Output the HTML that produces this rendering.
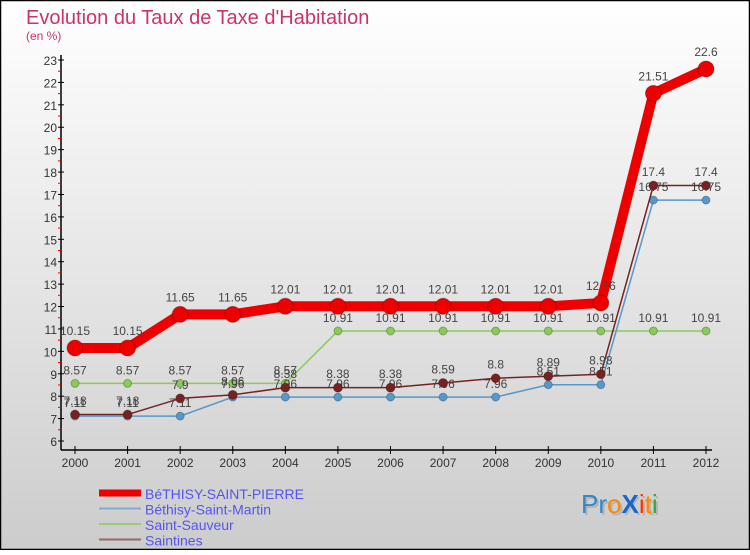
<!DOCTYPE html>
<html><head><meta charset="utf-8"><style>
html,body{margin:0;padding:0;}
body{width:750px;height:550px;overflow:hidden;font-family:"Liberation Sans",sans-serif;}
</style></head><body>
<svg id="chart" width="750" height="550" xmlns="http://www.w3.org/2000/svg">
<defs><linearGradient id="bg" x1="0" y1="0" x2="0" y2="1"><stop offset="0" stop-color="#ffffff"/><stop offset="1" stop-color="#cccccc"/></linearGradient></defs>
<rect x="0.5" y="0.5" width="749" height="549" fill="url(#bg)" stroke="#000" stroke-width="1.5"/>
<text x="26" y="24" font-size="20" fill="#cc3366">Evolution du Taux de Taxe d'Habitation</text>
<text x="26" y="40" font-size="12" fill="#cc3366">(en %)</text>
<g id="axes"></g><g id="series"></g><g id="legend"></g>
<g font-size="26" font-family="'Liberation Sans',sans-serif">
<text x="583" y="515" fill="#999" opacity="0.5">Pro<tspan>X</tspan>iti</text>
<text x="581" y="513"><tspan fill="#3388cc">P</tspan><tspan fill="#3388cc">r</tspan><tspan fill="#ff8800">o</tspan><tspan fill="#1a66cc" font-weight="bold">X</tspan><tspan fill="#ff3300">i</tspan><tspan fill="#ff8800">t</tspan><tspan fill="#33aa33">i</tspan></text>
</g>
</svg>
<script>
const years=[2000,2001,2002,2003,2004,2005,2006,2007,2008,2009,2010,2011,2012];
const pierre=[10.15,10.15,11.65,11.65,12.01,12.01,12.01,12.01,12.01,12.01,12.16,21.51,22.6];
const martin=[7.11,7.11,7.11,7.96,7.96,7.96,7.96,7.96,7.96,8.51,8.51,16.75,16.75];
const sauveur=[8.57,8.57,8.57,8.57,8.57,10.91,10.91,10.91,10.91,10.91,10.91,10.91,10.91];
const saintines=[7.18,7.18,7.9,8.06,8.38,8.38,8.38,8.59,8.8,8.89,8.98,17.4,17.4];
const yTicks=[6,7,8,9,10,11,12,13,14,15,16,17,18,19,20,21,22,23];
const NS='http://www.w3.org/2000/svg';
const x=i=>75+i*(706-75)/12;
const y=v=>441-(v-6)*(381/17);
function mk(tag,attrs,parent){const e=document.createElementNS(NS,tag);for(const k in attrs)e.setAttribute(k,attrs[k]);parent.appendChild(e);return e;}
const axes=document.getElementById('axes');
let a=mk('line',{x1:61,y1:55,x2:61,y2:450,stroke:'#000','stroke-width':1.5},axes);


a=mk('line',{x1:61,y1:450,x2:712,y2:450,stroke:'#000','stroke-width':1.5},axes);


yTicks.forEach(v=>{
 mk('line',{x1:58,y1:y(v),x2:64,y2:y(v),stroke:'#000'},axes);
 if(v<23)mk('line',{x1:58,y1:y(v+0.5),x2:61,y2:y(v+0.5),stroke:'#e00'},axes);
 const t=mk('text',{x:57,y:y(v)+5,'font-size':12,fill:'#333','text-anchor':'end'},axes);
 t.textContent=v;
 
 
});
years.forEach((yr,i)=>{
 mk('line',{x1:x(i),y1:446,x2:x(i),y2:454,stroke:'#000'},axes);
 const t=mk('text',{x:x(i),y:467,'font-size':12,fill:'#333','text-anchor':'middle'},axes);
 t.textContent=yr;
 
 
});
const seriesG=document.getElementById('series');
const defs=[
 {d:sauveur,c:'#88cc55',w:1.5,r:4,name:'saint-sauveur'},
 {d:martin,c:'#5599cc',w:1.5,r:4,name:'bethisy-saint-martin'},
 {d:saintines,c:'#772222',w:1.5,r:4.5,name:'saintines'},
 {d:pierre,c:'#ee0000',w:10,r:8,name:'bethisy-saint-pierre'}];
defs.forEach(s=>{
 const g=mk('g',{},seriesG);
 
 
 const p=mk('polyline',{points:s.d.map((v,i)=>x(i)+','+y(v)).join(' '),fill:'none',stroke:s.c,'stroke-width':s.w,'stroke-linejoin':'round'},g);
 
 
 s.d.forEach((v,i)=>{
  const c=mk('circle',{cx:x(i),cy:y(v),r:s.r,fill:s.c,stroke:'rgba(0,0,0,0.25)'},g);
  
  
  const t=mk('text',{x:x(i),y:y(v)-(s.r+5),'font-size':12,fill:'#444','text-anchor':'middle'},g);
  t.textContent=v;
  
  
 });
});
const lg=document.getElementById('legend');
const items=[['BéTHISY-SAINT-PIERRE','#ee0000',7],['Béthisy-Saint-Martin','#88aacc',2],['Saint-Sauveur','#99cc77',2],['Saintines','#996666',2]];
items.forEach((it,i)=>{
 const yy=493+i*15.5;
 const l=mk('line',{x1:99,y1:yy,x2:141,y2:yy,stroke:it[1],'stroke-width':it[2]},lg);
 
 
 const t=mk('text',{x:145,y:yy+6,'font-size':14,fill:'#5555ee'},lg);
 t.textContent=it[0];
 
 
});
</script>
</body></html>
